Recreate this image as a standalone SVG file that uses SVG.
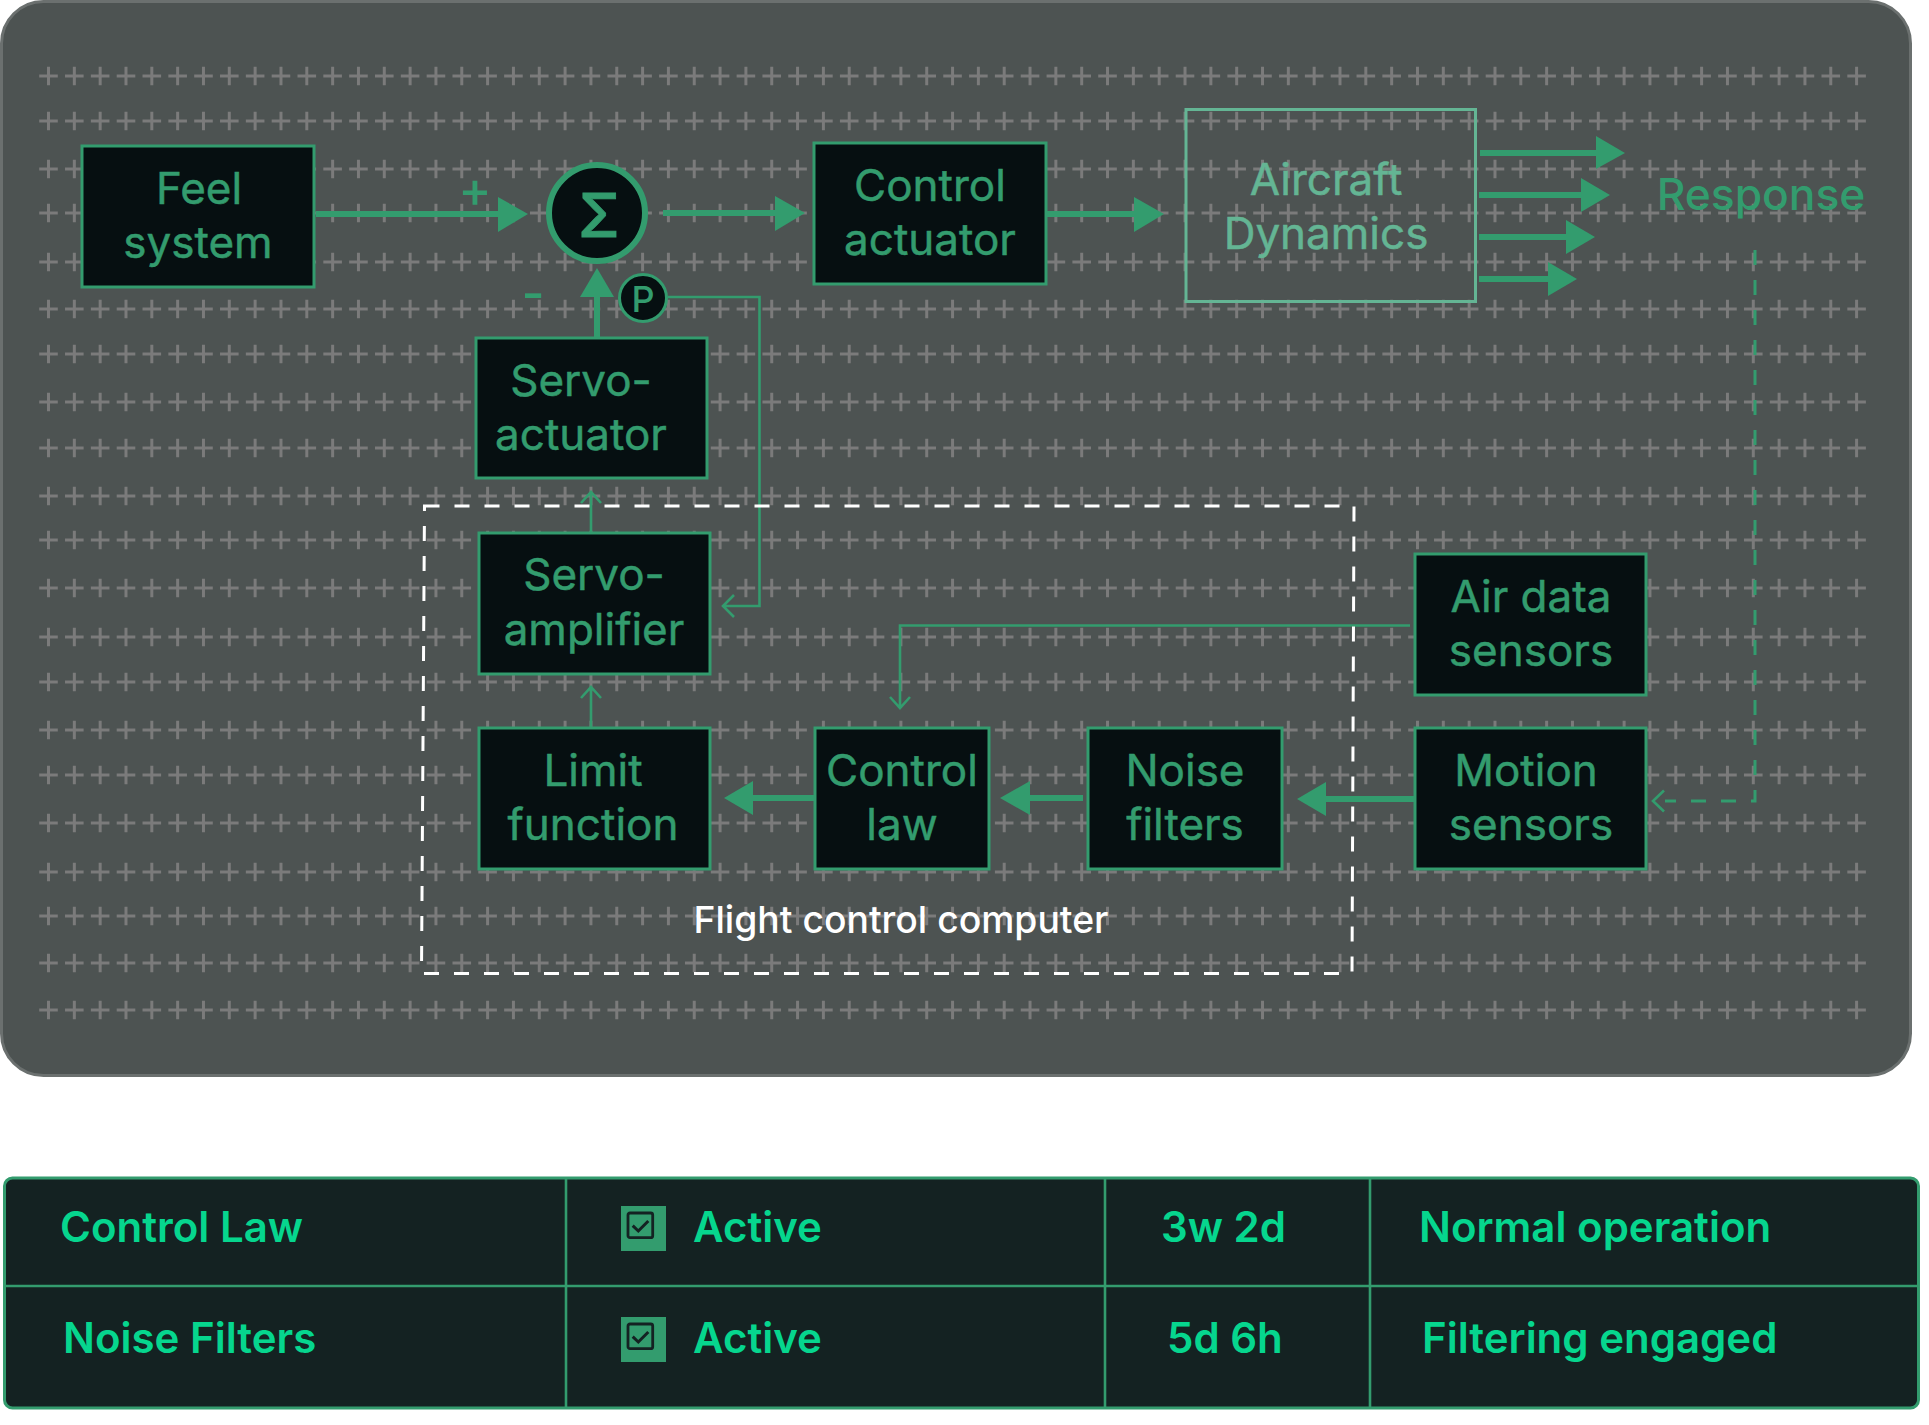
<svg xmlns="http://www.w3.org/2000/svg" width="1929" height="1425" viewBox="0 0 1929 1425">
<style>
text{font-family:Inter,"Liberation Sans",sans-serif;font-weight:500}
.n rect{fill:#060f11;stroke:#339c6e;stroke-width:3}
.n text{font-size:44px;font-weight:400;fill:#339c6e;stroke:#339c6e;stroke-width:.5;text-anchor:middle}
.th{stroke:#339c6e;stroke-width:6;fill:none}
.tn{stroke:#339c6e;stroke-width:2.6;fill:none}
.hd{fill:#339c6e}
.t{font-size:42px;font-weight:600;fill:#06d68e}
.g{stroke:#7b7b7b;fill:none}
</style>
<defs>
<g id="row"><line class="g" x1="39.2" x2="1866" y1="0" y2="0" stroke-width="3" stroke-dasharray="18.6 7.23"/><line class="g" x1="47" x2="1866" y1="0" y2="0" stroke-width="18.6" stroke-dasharray="3 22.83"/></g>
<g id="chk"><rect x="0" y="0" width="45" height="45" fill="#339c6e"/><rect x="7" y="7" width="24.700" height="24.700" rx="2" fill="#339c6e" stroke="#142222" stroke-width="2.800"/><path d="M11.700 19.700L17.300 25L27.300 15" fill="none" stroke="#142222" stroke-width="3"/></g>
</defs>
<rect id="panel" x="1.500" y="1.500" width="1909" height="1074" rx="42" fill="#4d5352" stroke="#6b706f" stroke-width="3"/>
<g id="grid">
<use href="#row" y="76"/><use href="#row" y="121"/><use href="#row" y="169"/><use href="#row" y="213"/><use href="#row" y="262"/><use href="#row" y="309"/><use href="#row" y="354"/><use href="#row" y="402"/><use href="#row" y="448"/><use href="#row" y="496"/><use href="#row" y="540"/><use href="#row" y="588"/><use href="#row" y="637"/><use href="#row" y="682"/><use href="#row" y="730"/><use href="#row" y="775"/><use href="#row" y="823"/><use href="#row" y="872"/><use href="#row" y="916"/><use href="#row" y="963"/><use href="#row" y="1010"/>
</g>
<g id="connectors">
<path class="th" d="M316 214H500"/><path class="hd" d="M498 197L528 214L498 232Z"/>
<path class="th" d="M663 213H777"/><path class="hd" d="M775 196L805 213L775 231Z"/>
<path class="th" d="M1047 214H1136"/><path class="hd" d="M1134 197L1164 214L1134 232Z"/>
<path class="th" d="M1480 153H1598"/><path class="hd" d="M1596 136L1625 153L1596 169Z"/>
<path class="th" d="M1479 195H1583"/><path class="hd" d="M1581 178L1610 195L1581 212Z"/>
<path class="th" d="M1479 237H1568"/><path class="hd" d="M1566 220L1595 237L1566 254Z"/>
<path class="th" d="M1479 279H1550"/><path class="hd" d="M1548 262L1577 279L1548 296Z"/>
<path class="th" d="M597 337V295"/><path class="hd" d="M580 297L597 268L614 297Z"/>
<path class="th" d="M814 798H751"/><path class="hd" d="M753 781L724 798L753 815Z"/>
<path class="th" d="M1083 798H1028"/><path class="hd" d="M1030 781L1000 798L1030 815Z"/>
<path class="th" d="M1415 799H1324"/><path class="hd" d="M1326 782L1297 799L1326 816Z"/>
<path class="tn" d="M591 532V493M581 503L591 492L601 503"/>
<path class="tn" d="M591 727V688M581 698L591 687L601 698"/>
<path class="tn" d="M668 297H759.500V606H724M734 595L723 606L734 617"/>
<path class="tn" d="M1410 625.500H900V707M890 697L900 708L910 697"/>
<path class="tn" style="stroke-width:3" stroke-dasharray="15 15" d="M1755 250V801H1665"/>
<path class="tn" d="M1664 790.500L1653 801L1664 811.500"/>
<path id="fcc" fill="none" stroke="#fff" stroke-width="3" stroke-dasharray="15 15" d="M424.500 506H1354L1352 973.500H421.500Z"/>
</g>
<g id="plus"><text x="475" y="207" font-size="50" fill="#339c6e" text-anchor="middle">+</text></g>
<g id="minus"><text x="533" y="311" font-size="50" fill="#339c6e" text-anchor="middle">-</text></g>
<g id="feel" class="n"><rect x="82" y="146" width="232" height="141"/><text x="199" y="204">Feel</text><text x="198" y="258">system</text></g>
<g id="sum"><circle cx="597" cy="213" r="48" fill="#060f11" stroke="#339c6e" stroke-width="6"/><text x="599" y="237" font-size="60" fill="#339c6e" stroke="#339c6e" stroke-width=".8" text-anchor="middle">Σ</text></g>
<g id="p"><circle cx="643" cy="298" r="23.500" fill="#060f11" stroke="#339c6e" stroke-width="3"/><text x="643" y="312" font-size="36" font-weight="400" fill="#339c6e" text-anchor="middle">P</text></g>
<g id="control-actuator" class="n"><rect x="814" y="143" width="232" height="141"/><text x="930" y="201">Control</text><text x="930" y="255">actuator</text></g>
<g id="aircraft" class="n"><rect x="1186" y="109.500" width="289.500" height="192" style="fill:none;stroke:#64b594"/><text x="1326" y="195" style="fill:#64b594;stroke:#64b594">Aircraft</text><text x="1326" y="249" style="fill:#64b594;stroke:#64b594">Dynamics</text></g>
<g id="response"><text x="1761" y="210" font-size="44.300" fill="#339c6e" text-anchor="middle">Response</text></g>
<g id="servo-actuator" class="n"><rect x="476" y="338" width="231" height="140"/><text x="581" y="396">Servo-</text><text x="581" y="450">actuator</text></g>
<g id="servo-amp" class="n"><rect x="479" y="533" width="231" height="141"/><text x="594" y="590">Servo-</text><text x="594" y="645">amplifier</text></g>
<g id="limit" class="n"><rect x="479" y="728" width="231" height="141"/><text x="593" y="786">Limit</text><text x="593" y="840">function</text></g>
<g id="control-law" class="n"><rect x="815" y="728" width="174" height="141"/><text x="902" y="786">Control</text><text x="902" y="840">law</text></g>
<g id="noise" class="n"><rect x="1088" y="728" width="194" height="141"/><text x="1185" y="786">Noise</text><text x="1185" y="840">filters</text></g>
<g id="motion" class="n"><rect x="1415" y="728" width="231" height="141"/><text x="1526" y="786">Motion</text><text x="1531" y="840">sensors</text></g>
<g id="air-data" class="n"><rect x="1415" y="554" width="231" height="141"/><text x="1531" y="612">Air data</text><text x="1531" y="666">sensors</text></g>
<g id="fcc-label"><text x="901" y="933" font-size="37.300" fill="#fff" text-anchor="middle">Flight control computer</text></g>
<g id="table">
<rect x="4.500" y="1178" width="1914" height="230" rx="8" fill="#142222" stroke="#339c6e" stroke-width="3"/>
<path d="M4.500 1286H1918M566 1178V1408M1105 1178V1408M1370 1178V1408" stroke="#339c6e" stroke-width="2.600" fill="none"/>
<use href="#chk" x="621" y="1206"/><use href="#chk" x="621" y="1317"/>
<text class="t" x="60" y="1242">Control Law</text><text class="t" x="693" y="1242">Active</text><text class="t" x="1161" y="1242">3w 2d</text><text class="t" x="1419" y="1242">Normal operation</text>
<text class="t" x="63" y="1353">Noise Filters</text><text class="t" x="693" y="1353">Active</text><text class="t" x="1167" y="1353">5d 6h</text><text class="t" x="1422" y="1353">Filtering engaged</text>
</g>
</svg>
